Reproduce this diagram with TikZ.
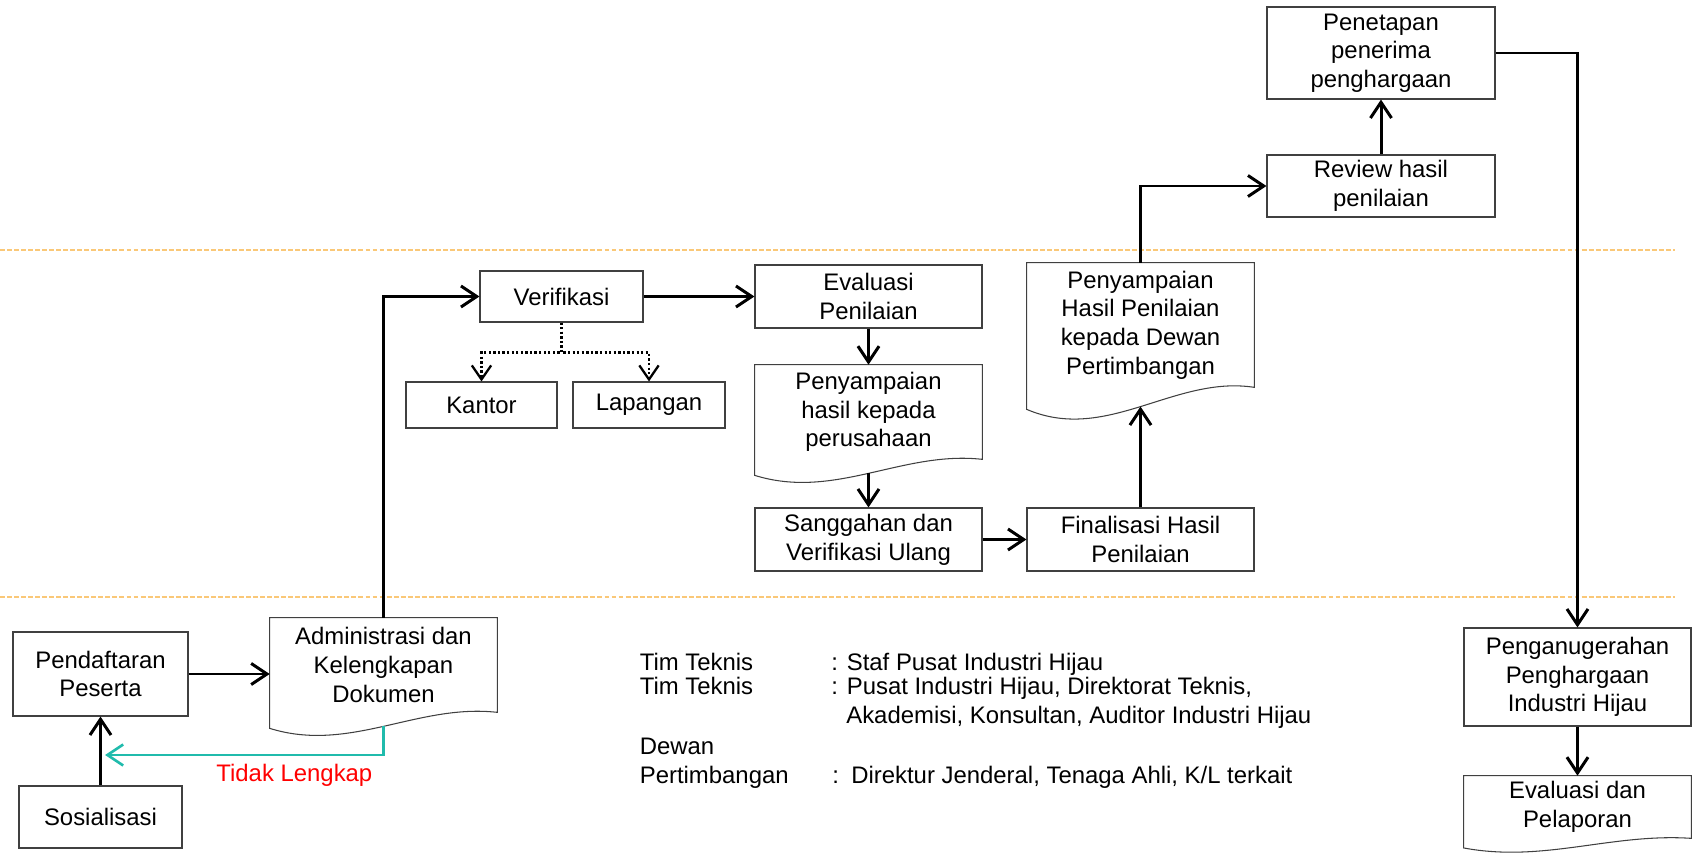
\documentclass[tikz,border=0pt]{standalone}
\usepackage{fontspec}
\setmainfont{Liberation Sans}
\usetikzlibrary{arrows.meta,calc}
\definecolor{tealline}{RGB}{32,187,172}
\definecolor{zone}{RGB}{250,200,120}

\begin{document}
\begin{tikzpicture}[
	box/.style = {draw = black!75, line width = 0.6pt, align = center,
		inner sep = 0pt, font = \fontsize{13.6}{16.3}\selectfont},
	doc/.style = {align = center, inner sep = 0pt,
		font = \fontsize{13.6}{16.3}\selectfont},
	wh/.style 2 args = {minimum width = #1cm, minimum height = #2cm},
	arr/.style = {line width = 1.7pt, -{Straight Barb[length=9pt, width=12pt]}},
	dotarr/.style = {line width = 1.3pt, dash pattern = on 1.3pt off 1.3pt,
		-{Straight Barb[length=8pt, width=11pt]}},
	retur/.style = {tealline, line width = 1.5pt,
		-{Straight Barb[length=9pt, width=12pt]}},
	legend/.style = {anchor = base west, inner sep = 0pt,
		font = \fontsize{13.6}{16.3}\selectfont}]

	\useasboundingbox (0,0) rectangle (34.02,17.08);

	% lanes
	\draw[zone, line width = 0.8pt, dash pattern = on 2.8pt off 1.2pt] (0,12.08) -- (33.5,12.08);
	\draw[zone, line width = 0.8pt, dash pattern = on 2.8pt off 1.2pt] (0,5.14) -- (33.5,5.14);

	\node[box, wh={3.26}{1.24}] (sos) at (2.01,0.74) {Sosialisasi};
	\node[box, wh={3.5}{1.68}] (pend) at (2.01,3.60) {Pendaftaran\\Peserta};
	\node[doc, wh={4.54}{1.88}] (admin) at (7.67,3.78) {Administrasi dan\\Kelengkapan\\Dokumen};
	\node[box, wh={3.26}{1.02}] (verif) at (11.23,11.15) {Verifikasi};
	\node[box, wh={3.02}{0.92}] (kantor) at (9.63,8.98) {Kantor};
	\node[box, wh={3.04}{0.92}] (lap) at (12.98,8.98) {Lapangan};
	\node[box, wh={4.54}{1.26}] (evpen) at (17.37,11.15) {Evaluasi\\Penilaian};
	\node[doc, wh={4.54}{1.88}] (ppsh) at (17.37,8.84) {Penyampaian\\hasil kepada\\perusahaan};
	\node[box, wh={4.54}{1.26}] (sangg) at (17.37,6.29) {Sanggahan dan\\Verifikasi Ulang};
	\node[box, wh={4.54}{1.26}] (fin) at (22.81,6.29) {Finalisasi Hasil\\Penilaian};
	\node[doc, wh={4.54}{2.48}] (pphp) at (22.81,10.58) {Penyampaian\\Hasil Penilaian\\kepada Dewan\\Pertimbangan};
	\node[box, wh={4.56}{1.24}] (review) at (27.62,13.36) {Review hasil\\penilaian};
	\node[box, wh={4.56}{1.84}] (penet) at (27.62,16.02) {Penetapan\\penerima\\penghargaan};
	\node[box, wh={4.54}{1.96}] (pengan) at (31.55,3.54) {Penganugerahan\\Penghargaan\\Industri Hijau};
	\node[doc, wh={4.54}{1.24}] (evlap) at (31.55,0.94) {Evaluasi dan\\Pelaporan};

	% document shapes with wavy bottom
	\foreach \d/\k in {admin/1, ppsh/1, pphp/1.375, evlap/0.6}{
		\draw[black!75, line width = 0.6pt] (\d.north west) -- (\d.north east) -- (\d.south east)
			.. controls +(-1.6,0.18*\k) and +(1.6,-0.5*\k) .. ($(\d.south west)+(0,-0.32*\k)$) -- cycle;
		\coordinate (\d-w) at ($(\d.south)+(0,-0.28*\k)$);
	}

	\draw[arr] (sos) -- (pend);
	\draw[arr] (pend.east) -- (pend.east -| admin.west);
	\draw[arr] (admin.north) |- (verif.west);
	\draw[arr] (verif) -- (evpen);
	\draw[dotarr] (verif.south) -- ++(0,-0.6) -| (kantor.north);
	\draw[dotarr] (verif.south) -- ++(0,-0.6) -| (lap.north);
	\draw[arr] (evpen) -- (ppsh);
	\draw[arr] (ppsh-w) -- (sangg);
	\draw[arr] (sangg) -- (fin);
	\draw[arr] (fin) -- (pphp-w);
	\draw[arr] (pphp.north) |- (review.west);
	\draw[arr] (review) -- (penet);
	\draw[arr] (penet.east) -| (pengan.north);
	\draw[arr] (pengan) -- (evlap);

	\coordinate (ret) at (2.10,1.98);
	\draw[retur] (admin-w) |- (ret)
		node[pos=0.66, below=1pt, red, font=\fontsize{13.6}{16.3}\selectfont] {Tidak Lengkap};

	% legend
	\node[legend] (k1) at (12.79,3.68) {Tim Teknis};
	\node[legend] (v1) at (16.62,3.68) {: Staf Pusat Industri Hijau};
	\node[legend] (k2) at (12.79,3.18) {Tim Teknis};
	\node[legend] (v2) at (16.62,3.18) {: Pusat Industri Hijau, Direktorat Teknis,};
	\node[legend] (v3) at (16.92,2.62) {Akademisi, Konsultan, Auditor Industri Hijau};
	\node[legend] (k4) at (12.79,1.98) {Dewan};
	\node[legend] (k5) at (12.79,1.42) {Pertimbangan};
	\node[legend] (v5) at (16.64,1.42) {: \kern0.07cm Direktur Jenderal, Tenaga Ahli, K/L terkait};

\end{tikzpicture}
\end{document}
